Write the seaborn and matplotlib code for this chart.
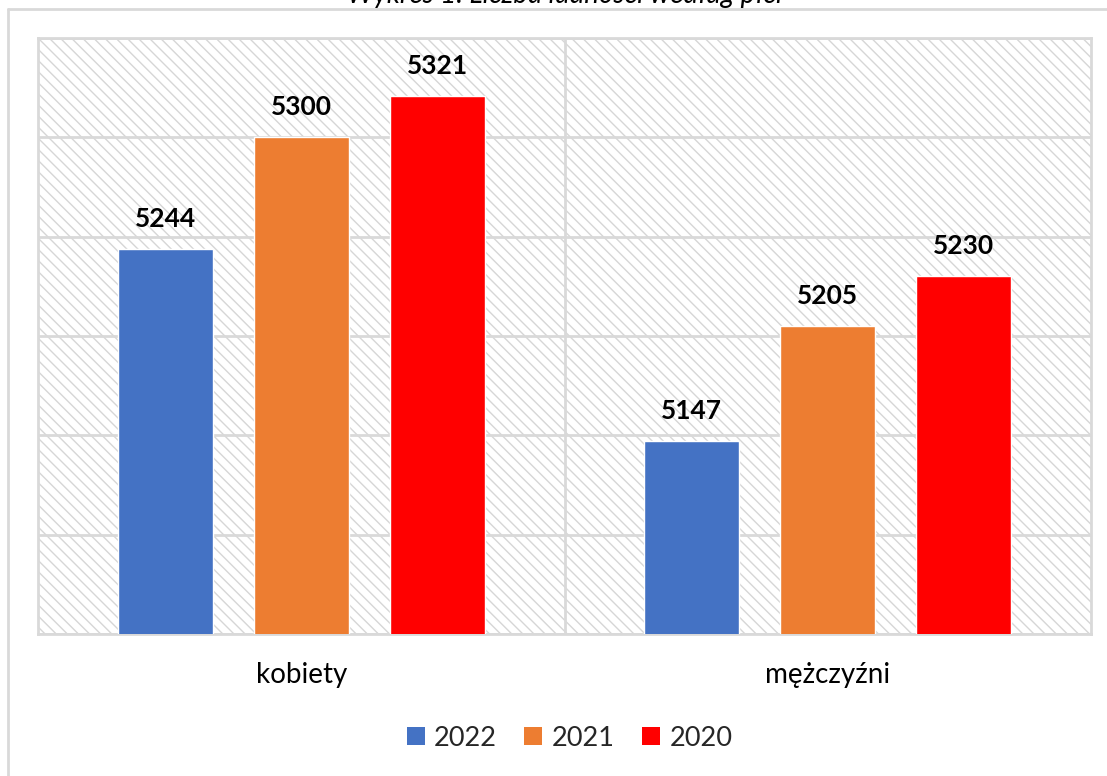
import matplotlib
matplotlib.use("Agg")
import matplotlib.pyplot as plt
import matplotlib.patches as mpatches
from matplotlib.lines import Line2D
import seaborn as sns
import pandas as pd

# ---- data ----
categories = ["kobiety", "mężczyźni"]
years = ["2022", "2021", "2020"]
values_2022 = [5244, 5147]
values_2021 = [5300, 5205]
values_2020 = [5321, 5230]
colors = ["#4472C4", "#ED7D31", "#FF0000"]
title = "Wykres 1. Liczba ludności według płci"

rows = []
for yr, vals in zip(years, [values_2022, values_2021, values_2020]):
    for cat, v in zip(categories, vals):
        rows.append({"kategoria": cat, "rok": yr, "wartość": v})
df = pd.DataFrame(rows)

sns.set_style("white")
plt.rcParams["font.family"] = ["Lato", "DejaVu Sans"]
plt.rcParams["hatch.linewidth"] = 1.0

W, H = 1107, 776
fig = plt.figure(figsize=(W / 100, H / 100), dpi=100)
ax = fig.add_axes([38 / W, 1 - 634 / H, (1091 - 38) / W, (634 - 38) / H])

grid_col = "#d9d9d9"

# hatched background
bg = mpatches.Rectangle((0, 0), 1, 1, transform=ax.transAxes, facecolor="white",
                        edgecolor="#d6d6d6", hatch="\\\\\\", linewidth=0, zorder=0)
ax.add_patch(bg)
ax.set_facecolor("white")

sns.barplot(data=df, x="kategoria", y="wartość", hue="rok", hue_order=years,
            order=categories, palette=colors, width=0.775, gap=0.3,
            saturation=1, ax=ax, zorder=3, legend=False)

ax.set_ylim(5050, 5350)
ax.set_yticks(range(5050, 5351, 50))
ax.set_yticklabels([])
ax.tick_params(axis="y", length=0)
ax.tick_params(axis="x", length=0, pad=20, labelsize=20)
for t in ax.get_xticklabels():
    t.set_color("#000000")
ax.set_xlim(-0.5, 1.5)
ax.yaxis.grid(True, color=grid_col, linewidth=2, zorder=1)
ax.set_axisbelow(True)
ax.axvline(0.5, color=grid_col, linewidth=2, zorder=1)
for s in ax.spines.values():
    s.set_color(grid_col)
    s.set_linewidth(2)
ax.set_xlabel("")
ax.set_ylabel("")

for cont in ax.containers:
    ax.bar_label(cont, fmt="%d", padding=13, fontsize=19, fontweight="bold",
                 color="#000000")

# legend
handles = [mpatches.Patch(facecolor=c, edgecolor="none", label=y) for c, y in zip(colors, years)]
fig.legend(handles=handles, loc="center", bbox_to_anchor=(569.5 / W, 1 - 738 / H),
           ncol=3, frameon=False, fontsize=19.5, handlelength=0.67, handleheight=0.67,
           handletextpad=0.35, columnspacing=1.0)

# outer chart border
fig.add_artist(Line2D([8 / W, 1], [1 - 9 / H, 1 - 9 / H], transform=fig.transFigure,
                      color=grid_col, linewidth=2))
fig.add_artist(Line2D([8 / W, 8 / W], [0, 1 - 9 / H], transform=fig.transFigure,
                      color=grid_col, linewidth=2))

# title (partially cut at top, as in the reference)
fig.text(565 / W, 1 - 3 / H, title, ha="center", va="baseline", fontsize=20,
         style="italic", color="#000000")

fig.savefig("out.png", dpi=100)
